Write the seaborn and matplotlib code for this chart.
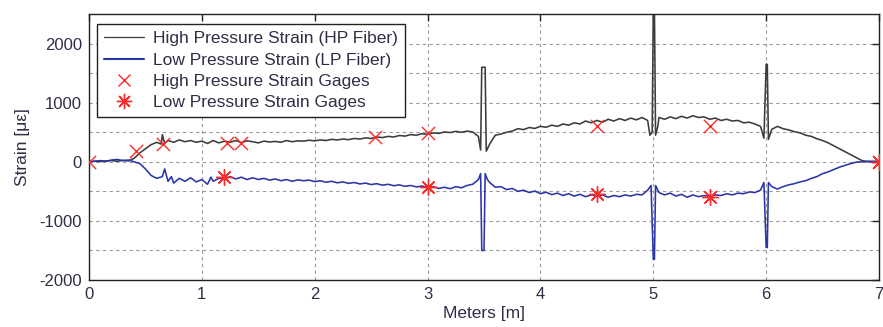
import matplotlib
matplotlib.use("Agg")
import matplotlib.pyplot as plt
import seaborn as sns
from matplotlib.lines import Line2D

# ---- data ----
hp_x = [0.00, 0.05, 0.10, 0.15, 0.20, 0.25, 0.30, 0.35, 0.40, 0.45, 0.50, 0.55, 0.60, 0.64, 0.65, 0.67,
        0.70, 0.75, 0.80, 0.85, 0.90, 0.95, 1.00, 1.05, 1.10, 1.15, 1.20, 1.25, 1.30, 1.35, 1.40, 1.45,
        1.50, 1.55, 1.60, 1.65, 1.70, 1.75, 1.80, 1.85, 1.90, 1.95, 2.00, 2.05, 2.10, 2.15, 2.20, 2.25,
        2.30, 2.35, 2.40, 2.45, 2.50, 2.55, 2.60, 2.65, 2.70, 2.75, 2.80, 2.85, 2.90, 2.95, 3.00, 3.05,
        3.10, 3.15, 3.20, 3.25, 3.30, 3.35, 3.40, 3.45, 3.47, 3.48, 3.51, 3.52, 3.55, 3.60, 3.65, 3.70,
        3.75, 3.80, 3.85, 3.90, 3.95, 4.00, 4.05, 4.10, 4.15, 4.20, 4.25, 4.30, 4.35, 4.40, 4.45, 4.50,
        4.55, 4.60, 4.65, 4.70, 4.75, 4.80, 4.85, 4.90, 4.95, 4.97, 4.99, 5.00, 5.01, 5.02, 5.04, 5.05,
        5.10, 5.15, 5.20, 5.25, 5.30, 5.35, 5.40, 5.45, 5.50, 5.55, 5.60, 5.65, 5.70, 5.75, 5.80, 5.85,
        5.90, 5.95, 5.98, 6.00, 6.01, 6.02, 6.05, 6.10, 6.15, 6.20, 6.25, 6.30, 6.35, 6.40, 6.45, 6.50,
        6.55, 6.60, 6.65, 6.70, 6.75, 6.80, 6.85, 6.90, 6.95, 7.00]
hp_y = [0, 10, 5, 15, 20, 10, 25, 15, 60, 150, 220, 290, 330, 300, 460, 310,
        360, 330, 370, 340, 360, 330, 350, 310, 360, 320, 350, 330, 360, 325, 355, 340,
        320, 350, 335, 345, 330, 360, 340, 355, 350, 365, 355, 370, 360, 380, 370, 385,
        375, 395, 385, 405, 395, 420, 410, 430, 420, 445, 435, 460, 450, 475, 465, 490,
        480, 505, 495, 515, 500, 520, 505, 430, 200, 1600, 1600, 180, 300, 450, 470, 500,
        520, 560, 545, 580, 565, 600, 585, 620, 600, 640, 620, 660, 640, 690, 660, 700,
        670, 720, 690, 730, 700, 740, 710, 750, 700, 450, 500, 2600, 2600, 450, 600, 750,
        720, 760, 730, 770, 740, 780, 750, 760, 720, 740, 700, 720, 690, 700, 660, 670,
        640, 600, 400, 1650, 1650, 380, 550, 600, 560, 540, 510, 490, 450, 430, 390, 360,
        320, 270, 220, 170, 120, 70, 20, 0, 0, 0]

lp_x = [0.00, 0.05, 0.10, 0.15, 0.20, 0.25, 0.30, 0.35, 0.40, 0.45, 0.50, 0.55, 0.60, 0.65, 0.67, 0.70,
        0.73, 0.75, 0.80, 0.85, 0.90, 0.95, 1.00, 1.05, 1.08, 1.10, 1.15, 1.20, 1.25, 1.30, 1.35, 1.40,
        1.45, 1.50, 1.55, 1.60, 1.65, 1.70, 1.75, 1.80, 1.85, 1.90, 1.95, 2.00, 2.05, 2.10, 2.15, 2.20,
        2.25, 2.30, 2.35, 2.40, 2.45, 2.50, 2.55, 2.60, 2.65, 2.70, 2.75, 2.80, 2.85, 2.90, 2.95, 3.00,
        3.05, 3.10, 3.15, 3.20, 3.25, 3.30, 3.35, 3.40, 3.45, 3.47, 3.48, 3.50, 3.51, 3.53, 3.55, 3.60,
        3.65, 3.70, 3.75, 3.80, 3.85, 3.90, 3.95, 4.00, 4.05, 4.10, 4.15, 4.20, 4.25, 4.30, 4.35, 4.40,
        4.45, 4.50, 4.55, 4.60, 4.65, 4.70, 4.75, 4.80, 4.85, 4.90, 4.95, 4.98, 5.00, 5.01, 5.02, 5.05,
        5.10, 5.15, 5.20, 5.25, 5.30, 5.35, 5.40, 5.45, 5.50, 5.55, 5.60, 5.65, 5.70, 5.75, 5.80, 5.85,
        5.90, 5.95, 5.98, 6.00, 6.01, 6.02, 6.05, 6.10, 6.15, 6.20, 6.25, 6.30, 6.35, 6.40, 6.45, 6.50,
        6.55, 6.60, 6.65, 6.70, 6.75, 6.80, 6.85, 6.90, 6.95, 7.00]
lp_y = [0, 10, 20, 10, 30, 40, 20, 30, 0, -30, -120, -230, -280, -250, -120, -330,
        -250, -360, -280, -330, -270, -340, -300, -380, -260, -330, -280, -290, -250, -290, -260, -300,
        -270, -300, -280, -310, -290, -320, -300, -330, -305, -320, -310, -335, -320, -345, -330, -355,
        -340, -365, -350, -375, -360, -385, -370, -395, -380, -405, -390, -415, -400, -425, -410, -430,
        -420, -450, -430, -455, -420, -440, -400, -380, -300, -200, -1500, -1500, -200, -300, -350, -430,
        -420, -470, -450, -500, -480, -520, -495, -540, -515, -555, -530, -570, -540, -580, -550, -590,
        -560, -580, -560, -600, -570, -590, -560, -580, -550, -560, -480, -400, -1650, -1650, -400, -520,
        -560, -530, -580, -550, -600, -560, -590, -570, -590, -560, -570, -540, -560, -530, -540, -510,
        -520, -480, -350, -1450, -1450, -350, -420, -460, -420, -390, -370, -340, -320, -280, -250, -200,
        -170, -130, -90, -60, -30, -5, 0, 10, 10, 10]

hp_gage_x = [0.0, 0.42, 0.66, 1.22, 1.35, 2.53, 3.0, 4.5, 5.5, 7.0]
hp_gage_y = [0, 190, 300, 320, 320, 420, 490, 610, 610, 0]
lp_gage_x = [1.2, 3.0, 4.5, 5.5, 7.0]
lp_gage_y = [-260, -430, -545, -590, 0]

labels = ["High Pressure Strain (HP Fiber)", "Low Pressure Strain (LP Fiber)",
          "High Pressure Strain Gages", "Low Pressure Strain Gages"]
x_ticks = [0, 1, 2, 3, 4, 5, 6, 7]
y_ticks = [-2000, -1000, 0, 1000, 2000]

# ---- style ----
sns.set_theme(style="white")
plt.rcParams["font.family"] = ["Liberation Sans", "DejaVu Sans"]
plt.rcParams["axes.unicode_minus"] = False

HP_COL = "#3c3c3c"
LP_COL = "#2b35a8"
RED = "#ff2a2a"
TXT = "#2e2e48"
ASTER = (8, 2, 0)

fig = plt.figure(figsize=(8.83, 3.27), dpi=100)
fig.patch.set_facecolor("white")
ax = fig.add_axes([0.1008, 0.1437, 0.8947, 0.8133])

sns.lineplot(x=hp_x, y=hp_y, ax=ax, color=HP_COL, lw=1.15, sort=False, estimator=None)
sns.lineplot(x=lp_x, y=lp_y, ax=ax, color=LP_COL, lw=1.15, sort=False, estimator=None)
sns.scatterplot(x=hp_gage_x, y=hp_gage_y, ax=ax, marker="x", color=RED, s=90, linewidth=1.0, zorder=5)
sns.scatterplot(x=lp_gage_x, y=lp_gage_y, ax=ax, marker=ASTER, color=RED, edgecolor=RED,
                s=130, linewidth=1.0, zorder=5)

ax.set_xlim(0, 7)
ax.set_ylim(-2000, 2500)
ax.set_xticks(x_ticks)
ax.set_yticks(y_ticks)
ax.set_yticks([-1500, -500, 500, 1500], minor=True)
ax.grid(True, which="both", axis="y", color="#9a9a9a", linestyle=(0, (3, 3)), lw=0.8)
ax.grid(True, which="major", axis="x", color="#9a9a9a", linestyle=(0, (3, 3)), lw=0.8)
ax.tick_params(axis="both", which="major", direction="in", length=5, width=1.0,
               top=True, right=True, labelsize=12, colors="#222222")
ax.tick_params(axis="x", which="major", pad=5, labelcolor=TXT)
ax.tick_params(axis="y", which="major", pad=5, labelcolor=TXT)
ax.tick_params(axis="y", which="minor", length=0)
for s in ax.spines.values():
    s.set_color("#222222")
    s.set_linewidth(1.0)

ax.set_xlabel("Meters [m]", fontsize=12.5, labelpad=3, color=TXT)
ax.set_ylabel("Strain [\u03bc\u03b5]", fontsize=12.5, labelpad=7, color=TXT)

handles = [
    Line2D([], [], color=HP_COL, lw=0.9),
    Line2D([], [], color=LP_COL, lw=1.5),
    Line2D([], [], color=RED, marker="x", ls="", ms=9, mew=1.0),
    Line2D([], [], color=RED, marker=ASTER, ls="", ms=11, mew=1.0),
]
leg = ax.legend(handles, labels, loc="upper left", bbox_to_anchor=(0.01, 0.962),
                frameon=True, fancybox=False, framealpha=1, edgecolor="#222222",
                fontsize=12.5, borderpad=0.4, labelspacing=0.36, handlelength=2.3,
                handletextpad=0.55, borderaxespad=0)
leg.get_frame().set_linewidth(1.0)
for t in leg.get_texts():
    t.set_color(TXT)

fig.savefig("out.png", dpi=100)
